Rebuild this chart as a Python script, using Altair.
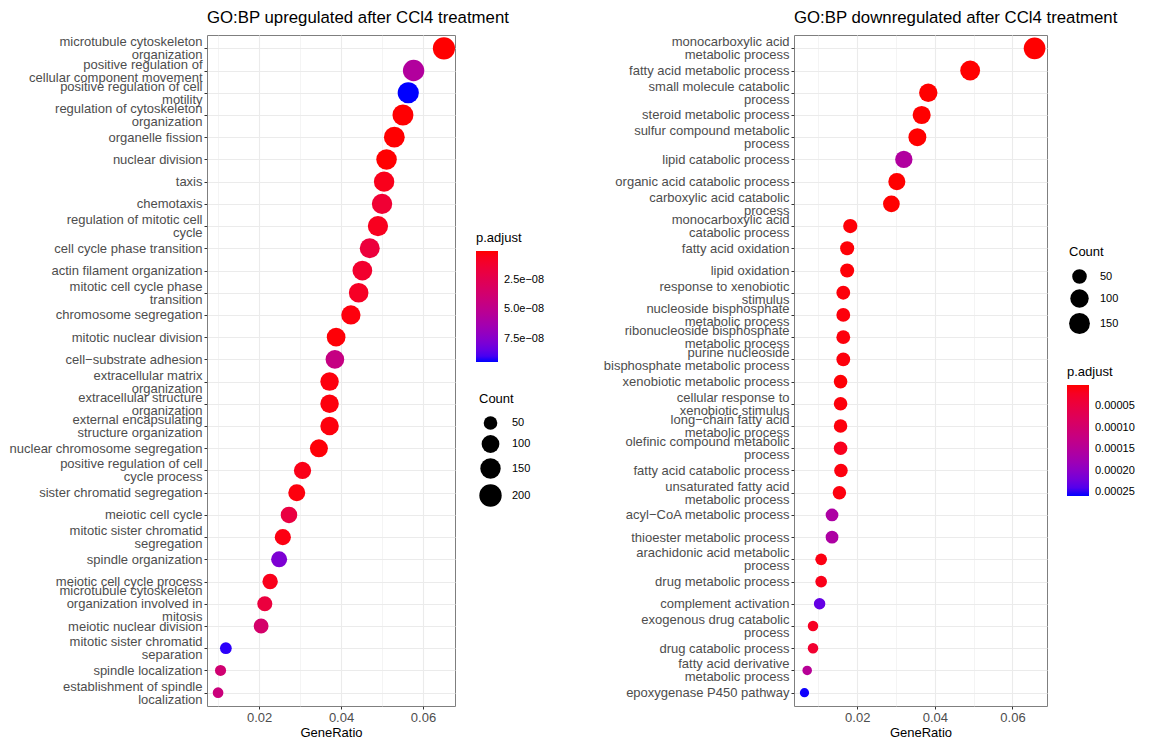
import altair as alt
import pandas as pd

FONT = "Liberation Sans"

# ---------------- upregulated panel ----------------
up_terms = [
    "microtubule cytoskeleton\norganization",
    "positive regulation of\ncellular component movement",
    "positive regulation of cell\nmotility",
    "regulation of cytoskeleton\norganization",
    "organelle fission",
    "nuclear division",
    "taxis",
    "chemotaxis",
    "regulation of mitotic cell\ncycle",
    "cell cycle phase transition",
    "actin filament organization",
    "mitotic cell cycle phase\ntransition",
    "chromosome segregation",
    "mitotic nuclear division",
    "cell\u2212substrate adhesion",
    "extracellular matrix\norganization",
    "extracellular structure\norganization",
    "external encapsulating\nstructure organization",
    "nuclear chromosome segregation",
    "positive regulation of cell\ncycle process",
    "sister chromatid segregation",
    "meiotic cell cycle",
    "mitotic sister chromatid\nsegregation",
    "spindle organization",
    "meiotic cell cycle process",
    "microtubule cytoskeleton\norganization involved in\nmitosis",
    "meiotic nuclear division",
    "mitotic sister chromatid\nseparation",
    "spindle localization",
    "establishment of spindle\nlocalization",
]
up_ratio = [0.0651, 0.0577, 0.0564, 0.0551, 0.0530, 0.0511, 0.0505, 0.0500, 0.0490, 0.0470,
            0.0452, 0.0443, 0.0424, 0.0388, 0.0385, 0.0372, 0.0372, 0.0372, 0.0346, 0.0306,
            0.0292, 0.0273, 0.0258, 0.0249, 0.0227, 0.0214, 0.0205, 0.0119, 0.0106, 0.0100]
up_count = [195, 173, 169, 165, 159, 153, 151, 150, 147, 141,
            136, 133, 127, 116, 115, 112, 112, 112, 104, 92,
            88, 82, 77, 75, 68, 64, 62, 36, 32, 30]
up_padj = [1e-12, 5.6e-8, 9.5e-8, 3e-10, 1e-10, 2e-10, 5e-9, 1.3e-8, 6e-9, 1.6e-8,
           1.1e-8, 8e-9, 2e-9, 1e-9, 4.5e-8, 2e-9, 2e-9, 2e-9, 1e-9, 4e-9,
           2e-9, 1.8e-8, 3e-9, 7.8e-8, 5e-9, 1.7e-8, 3.5e-8, 9.3e-8, 3.8e-8, 4.2e-8]

# ---------------- downregulated panel ----------------
down_terms = [
    "monocarboxylic acid\nmetabolic process",
    "fatty acid metabolic process",
    "small molecule catabolic\nprocess",
    "steroid metabolic process",
    "sulfur compound metabolic\nprocess",
    "lipid catabolic process",
    "organic acid catabolic process",
    "carboxylic acid catabolic\nprocess",
    "monocarboxylic acid\ncatabolic process",
    "fatty acid oxidation",
    "lipid oxidation",
    "response to xenobiotic\nstimulus",
    "nucleoside bisphosphate\nmetabolic process",
    "ribonucleoside bisphosphate\nmetabolic process",
    "purine nucleoside\nbisphosphate metabolic process",
    "xenobiotic metabolic process",
    "cellular response to\nxenobiotic stimulus",
    "long\u2212chain fatty acid\nmetabolic process",
    "olefinic compound metabolic\nprocess",
    "fatty acid catabolic process",
    "unsaturated fatty acid\nmetabolic process",
    "acyl\u2212CoA metabolic process",
    "thioester metabolic process",
    "arachidonic acid metabolic\nprocess",
    "drug metabolic process",
    "complement activation",
    "exogenous drug catabolic\nprocess",
    "drug catabolic process",
    "fatty acid derivative\nmetabolic process",
    "epoxygenase P450 pathway",
]
down_ratio = [0.0657, 0.0491, 0.0383, 0.0366, 0.0355, 0.0320, 0.0302, 0.0288, 0.0182, 0.0174,
              0.0174, 0.0164, 0.0164, 0.0164, 0.0164, 0.0157, 0.0157, 0.0157, 0.0157, 0.0158,
              0.0154, 0.0135, 0.0135, 0.0107, 0.0107, 0.0103, 0.0086, 0.0086, 0.0071, 0.0064]
down_count = [171, 128, 100, 95, 92, 83, 79, 75, 47, 45,
              45, 43, 43, 43, 43, 41, 41, 41, 41, 41,
              40, 35, 35, 28, 28, 27, 22, 22, 18, 17]
down_padj = [1e-15, 1e-12, 1e-9, 1e-9, 5e-9, 1.55e-4, 2e-8, 1e-7, 3e-6, 3e-6,
             3e-6, 4e-6, 5e-6, 5e-6, 5e-6, 2e-6, 4e-6, 5e-6, 1.5e-5, 6e-6,
             6e-6, 1.6e-4, 1.6e-4, 8e-6, 1.2e-5, 2.3e-4, 2e-5, 3.2e-5, 1.45e-4, 2.58e-4]

MAJOR = "round(datum.value * 100) % 2 == 0"
NLINES = "length(split(datum.label, '\\n'))"


def panel(terms, ratio, count, padj, title, width, xdom, cdom, cvals, clabel,
          sdom, srange, svals, c_pos, s_pos):
    df = pd.DataFrame({"Description": terms, "GeneRatio": ratio,
                       "Count": count, "padj": padj})
    x_axis = alt.Axis(
        values=[0.01, 0.02, 0.03, 0.04, 0.05, 0.06],
        labelExpr=f"{MAJOR} ? format(datum.value, '.2f') : ''",
        grid=True, gridColor="#ebebeb",
        gridWidth={"condition": {"test": MAJOR, "value": 1.1}, "value": 0.55},
        tickOpacity={"condition": {"test": MAJOR, "value": 1}, "value": 0},
        tickSize=3, tickColor="#333333", domain=False,
        labelFontSize=13, labelColor="#4d4d4d", labelPadding=2,
        title="GeneRatio", titleFontSize=13, titleFontWeight="normal",
        titleColor="black", titlePadding=2,
    )
    y_axis = alt.Axis(
        title=None, labelExpr="split(datum.label, '\\n')",
        labelFontSize=13, labelColor="#4d4d4d", labelLineHeight=13,
        labelOffset={"condition": [
            {"test": f"{NLINES} == 2", "value": -6.5},
            {"test": f"{NLINES} == 3", "value": -13},
        ], "value": 0},
        labelLimit=400, tickSize=3, tickColor="#333333", grid=True,
        gridColor="#ebebeb", gridWidth=1.1, domain=False, labelPadding=2,
    )
    return alt.Chart(df).transform_calculate(
        negp="-datum.padj"
    ).mark_circle(opacity=1).encode(
        x=alt.X("GeneRatio:Q", scale=alt.Scale(domain=xdom, nice=False, zero=False), axis=x_axis),
        y=alt.Y("Description:N", sort=terms, scale=alt.Scale(type="point", padding=0.6), axis=y_axis),
        color=alt.Color(
            "negp:Q",
            scale=alt.Scale(domain=[-cdom[1], -cdom[0]], range=["blue", "red"], interpolate="lab"),
            legend=alt.Legend(
                title="p.adjust", values=[-v for v in cvals], labelExpr=clabel,
                orient="none", legendX=c_pos[0], legendY=c_pos[1],
                direction="vertical", gradientLength=111, gradientThickness=22,
                titleFontSize=13, titleFontWeight="normal", titleColor="black",
                labelFontSize=11, labelColor="black", labelOffset=6, titlePadding=6,
                gradientStrokeWidth=0,
            ),
        ),
        size=alt.Size(
            "Count:Q",
            scale=alt.Scale(type="sqrt", domain=sdom, range=srange, zero=False),
            legend=alt.Legend(
                title="Count", values=svals, orient="none",
                legendX=s_pos[0], legendY=s_pos[1],
                symbolFillColor="black", symbolStrokeWidth=0, symbolType="circle",
                symbolOpacity=1, titleFontSize=13, titleFontWeight="normal",
                titleColor="black", labelFontSize=11, labelColor="#000000",
                labelOffset=10, rowPadding=5, titlePadding=10,
            ),
        ),
    ).properties(
        width=width, height=671,
        title=alt.TitleParams(title, anchor="start", frame="group", fontSize=16.8,
                              font=FONT, fontWeight="normal", color="black", offset=8),
    )


left = panel(up_terms, up_ratio, up_count, up_padj,
             "GO:BP upregulated after CCl4 treatment", 248,
             [0.0073, 0.0678], [0, 9.5e-8], [2.5e-8, 5e-8, 7.5e-8],
             "replace(format(-datum.value, '.1e'), 'e-', 'e\u22120')",
             [30, 200], [115, 500], [50, 100, 150, 200],
             (269, 197), (272, 358))

right = panel(down_terms, down_ratio, down_count, down_padj,
              "GO:BP downregulated after CCl4 treatment", 253,
              [0.0037, 0.0689], [0, 2.59e-4], [5e-5, 1e-4, 1.5e-4, 2e-4, 2.5e-4],
              "format(-datum.value, '.5f')",
              [17, 171], [86, 471], [50, 100, 150],
              (273, 331), (275, 211))

chart = alt.hconcat(left, right, spacing=339, bounds="flush").resolve_scale(
    color="independent", size="independent", x="independent", y="independent"
).properties(
    padding={"left": 0, "top": 1, "right": 0, "bottom": 0}
).configure_view(
    stroke="#7f7f7f", strokeWidth=1
).configure_axis(
    labelFont=FONT, titleFont=FONT
).configure_legend(
    labelFont=FONT, titleFont=FONT
).configure_title(font=FONT)

chart.save("out.html", embed_options={"renderer": "svg", "actions": False})
